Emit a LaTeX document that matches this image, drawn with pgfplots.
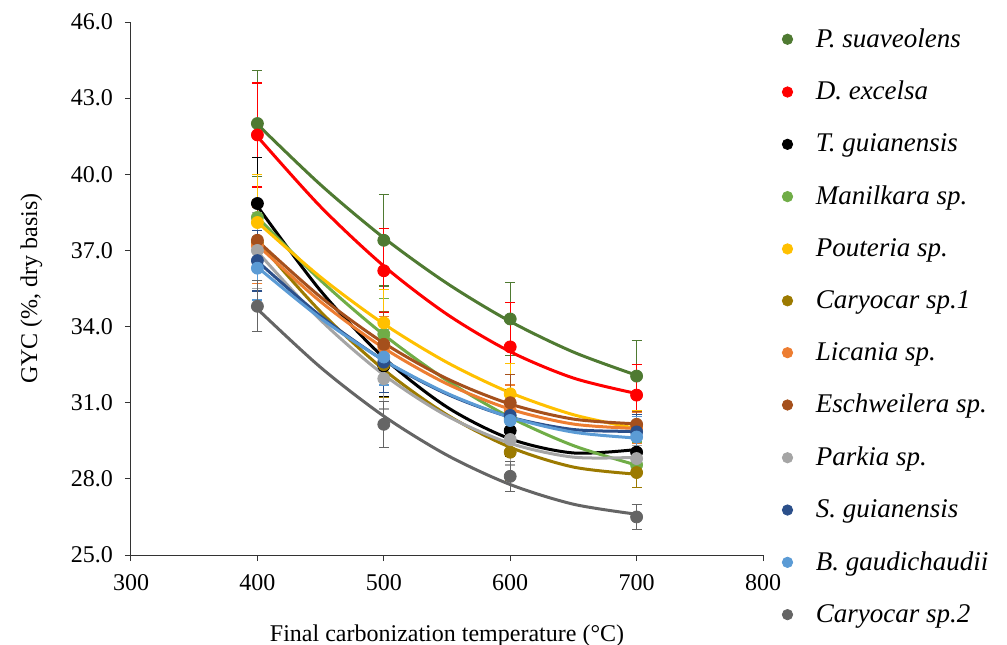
\documentclass[border=0pt]{standalone}
\usepackage{pgfplots}
\pgfplotsset{compat=1.18}
\usepackage{fontspec}
\setmainfont{Liberation Serif}
\definecolor{cP}{HTML}{4F7A32}
\definecolor{cD}{HTML}{FF0000}
\definecolor{cT}{HTML}{000000}
\definecolor{cM}{HTML}{70AD47}
\definecolor{cPo}{HTML}{FFC000}
\definecolor{cC1}{HTML}{9C7A00}
\definecolor{cL}{HTML}{ED7D31}
\definecolor{cE}{HTML}{A5501C}
\definecolor{cPa}{HTML}{A5A5A5}
\definecolor{cS}{HTML}{2B4F8A}
\definecolor{cB}{HTML}{5B9BD5}
\definecolor{cC2}{HTML}{656565}
\pgfplotsset{
  pts/.style={color=#1, only marks, mark=*, mark size=3pt,
    mark options={solid, line width=0.4pt, fill=#1, draw=#1},
    error bars/.cd, y dir=both, y explicit,
    error bar style={line width=0.6pt, draw=#1},
    error mark options={rotate=90, mark size=2.5pt, line width=0.6pt, draw=#1}},
  crv/.style={color=#1, no marks, line width=1.5pt, smooth, forget plot},
}
\begin{document}
\begin{tikzpicture}
\begin{axis}[
  scale only axis, width=316pt, height=266.5pt,
  xmin=300, xmax=800, ymin=25, ymax=46,
  xtick={300,400,...,800}, ytick={25,28,...,46},
  axis x line*=bottom, axis y line*=left,
  axis line style={line width=0.5pt, black!80},
  tick style={black!80, line width=0.5pt},
  tick align=outside, major tick length=3pt,
  /pgf/number format/assume math mode=true,
  xticklabel={\pgfmathprintnumber[1000 sep={}]{\tick}},
  yticklabel={\pgfmathprintnumber[fixed, fixed zerofill, precision=1]{\tick}},
  x tick label style={yshift=-3pt},
  y tick label style={xshift=-2.5pt},
  tick label style={font=\fontsize{12}{14}\selectfont},
  label style={font=\fontsize{12}{14}\selectfont},
  xlabel={Final carbonization temperature (\textdegree C)},
  ylabel={GYC (\%, dry basis)},
  xlabel style={yshift=-10.5pt},
  ylabel style={yshift=7.5pt},
  legend style={at={(1,1)}, anchor=north west, xshift=8pt, yshift=0pt, draw=none, fill=none,
    font=\fontsize{13.5}{15}\selectfont\itshape, row sep=11.5pt, inner sep=1pt},
  legend cell align=left,
  legend image code/.code={\path (-0.1cm,0cm) (0.42cm,0cm); \draw[only marks, mark size=2.6pt] plot coordinates {(0cm,0cm)};},
]
% P. suaveolens
\addplot[crv=cP] coordinates {(400,41.967)(450,39.586)(500,37.497)(550,35.703)(600,34.202)(650,32.996)(700,32.082)};
\addplot[pts=cP] table[x=x,y=y,y error=e] {
x y e
400 42.0 2.1
500 37.4 1.8
600 34.3 1.45
700 32.05 1.4
};
\addlegendentry{P. suaveolens}
% D. excelsa
\addplot[crv=cD] coordinates {(400,41.487)(450,38.722)(500,36.387)(550,34.484)(600,33.012)(650,31.972)(700,31.362)};
\addplot[pts=cD] table[x=x,y=y,y error=e] {
x y e
400 41.55 2.05
500 36.2 1.65
600 33.2 1.75
700 31.3 1.2
};
\addlegendentry{D. excelsa}
% T. guianensis
\addplot[crv=cT] coordinates {(400,38.742)(450,35.411)(500,32.772)(550,30.828)(600,29.577)(650,29.021)(700,29.157)};
\addplot[pts=cT] table[x=x,y=y,y error=e] {
x y e
400 38.85 1.8
500 32.45 1.2
600 29.9 1.0
700 29.05 0.5
};
\addlegendentry{T. guianensis}
% Manilkara
\addplot[crv=cM] coordinates {(400,38.307)(450,35.821)(500,33.677)(550,31.878)(600,30.422)(650,29.311)(700,28.542)};
\addplot[pts=cM] table[x=x,y=y,y error=e] {
x y e
400 38.3 1.7
500 33.7 1.4
600 30.4 1.3
700 28.55 0.9
};
\addlegendentry{Manilkara sp.}
% Pouteria
\addplot[crv=cPo] coordinates {(400,38.115)(450,35.948)(500,34.105)(550,32.588)(600,31.395)(650,30.528)(700,29.985)};
\addplot[pts=cPo] table[x=x,y=y,y error=e] {
x y e
400 38.1 1.9
500 34.15 1.3
600 31.35 1.2
700 30.0 0.7
};
\addlegendentry{Pouteria sp.}
% Caryocar sp.1
\addplot[crv=cC1] coordinates {(400,37.365)(450,34.585)(500,32.305)(550,30.525)(600,29.245)(650,28.465)(700,28.185)};
\addplot[pts=cC1] table[x=x,y=y,y error=e] {
x y e
400 37.3 1.6
500 32.5 1.3
600 29.05 1.1
700 28.25 0.6
};
\addlegendentry{Caryocar sp.1}
% Licania
\addplot[crv=cL] coordinates {(400,37.215)(450,34.979)(500,33.155)(550,31.744)(600,30.745)(650,30.159)(700,29.985)};
\addplot[pts=cL] table[x=x,y=y,y error=e] {
x y e
400 37.2 1.5
500 33.2 1.2
600 30.7 1.0
700 30.0 0.6
};
\addlegendentry{Licania sp.}
% Eschweilera
\addplot[crv=cE] coordinates {(400,37.383)(450,35.165)(500,33.353)(550,31.947)(600,30.948)(650,30.355)(700,30.168)};
\addplot[pts=cE] table[x=x,y=y,y error=e] {
x y e
400 37.4 1.6
500 33.3 1.3
600 31.0 1.1
700 30.15 0.5
};
\addlegendentry{Eschweilera sp.}
% Parkia
\addplot[crv=cPa] coordinates {(400,36.950)(450,34.256)(500,32.100)(550,30.481)(600,29.400)(650,28.856)(700,28.850)};
\addplot[pts=cPa] table[x=x,y=y,y error=e] {
x y e
400 37.0 1.5
500 31.95 1.2
600 29.55 1.0
700 28.8 0.5
};
\addlegendentry{Parkia sp.}
% S. guianensis
\addplot[crv=cS] coordinates {(400,36.578)(450,34.414)(500,32.668)(550,31.341)(600,30.433)(650,29.944)(700,29.873)};
\addplot[pts=cS] table[x=x,y=y,y error=e] {
x y e
400 36.6 1.2
500 32.6 1.2
600 30.5 1.0
700 29.85 0.7
};
\addlegendentry{S. guianensis}
% B. gaudichaudii
\addplot[crv=cB] coordinates {(400,36.343)(450,34.330)(500,32.673)(550,31.372)(600,30.428)(650,29.840)(700,29.608)};
\addplot[pts=cB] table[x=x,y=y,y error=e] {
x y e
400 36.3 1.25
500 32.8 1.1
600 30.3 0.9
700 29.65 0.8
};
\addlegendentry{B. gaudichaudii}
% Caryocar sp.2
\addplot[crv=cC2] coordinates {(400,34.692)(450,32.392)(500,30.472)(550,28.934)(600,27.777)(650,27.002)(700,26.607)};
\addplot[pts=cC2] table[x=x,y=y,y error=e] {
x y e
400 34.8 1.0
500 30.15 0.9
600 28.1 0.6
700 26.5 0.5
};
\addlegendentry{Caryocar sp.2}
\end{axis}
\pgfresetboundingbox
\path ([shift={(-65.5pt,-44.5pt)}]current axis.south west) rectangle ([shift={(122pt,11pt)}]current axis.north east);
\end{tikzpicture}
\end{document}
